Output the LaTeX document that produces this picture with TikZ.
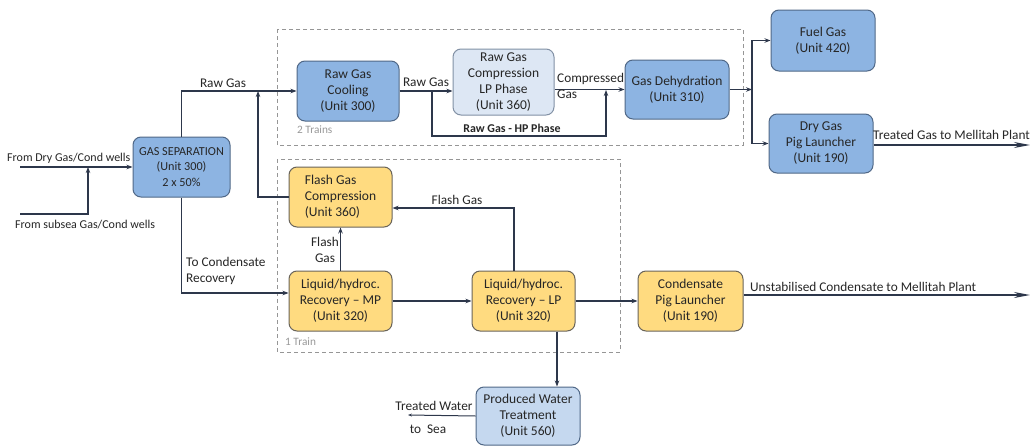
\documentclass[tikz,border=0pt]{standalone}
\usepackage{fontspec}
\setmainfont{Carlito}
\usetikzlibrary{arrows.meta}
\definecolor{bfill}{RGB}{141,180,226}
\definecolor{bdraw}{RGB}{80,104,135}
\definecolor{lfill}{RGB}{221,231,244}
\definecolor{ldraw}{RGB}{130,145,165}
\definecolor{yfill}{RGB}{255,219,128}
\definecolor{ydraw}{RGB}{105,100,90}
\definecolor{ln}{RGB}{45,55,75}
\definecolor{dgray}{RGB}{150,150,150}
\begin{document}
\begin{tikzpicture}[x=1pt,y=-1pt,
  base/.style={draw, line width=1pt, rounded corners=8pt, align=center, inner sep=0pt,
    font=\fontsize{13.5}{16}\selectfont, text=black!85},
  bluebox/.style={base, fill=bfill, draw=bdraw},
  lightbox/.style={base, fill=lfill, draw=ldraw},
  yelbox/.style={base, fill=yfill, draw=ydraw},
  conn/.style={draw=ln, line width=1.3pt, -{Stealth[length=6pt,width=4.5pt]}},
  bigconn/.style={draw=ln, line width=1.3pt, -{Stealth[length=16pt,width=6pt]}},
  lbl/.style={font=\fontsize{13.3}{16}\selectfont, text=black!85, inner sep=0pt},
  slbl/.style={font=\fontsize{12}{15}\selectfont, text=black!85, inner sep=0pt},
  trainbox/.style={draw=dgray, dashed, line width=1pt, dash pattern=on 4pt off 3pt},
  trainlbl/.style={font=\fontsize{11.3}{13}\selectfont, text=black!40, inner sep=0pt, anchor=west}]
\useasboundingbox (0,0) rectangle (1030,447);
\fill[white] (0,0) rectangle (1030,447);

% train frames
\draw[trainbox] (277,29) rectangle (743,145);
\draw[trainbox] (277,159) rectangle (620,352);
\node[trainlbl] (t2) at (297,130) {2 Trains};
\node[trainlbl] (t1) at (285,342) {1 Train};

% nodes
\node[bluebox, font=\fontsize{12.2}{15.5}\selectfont, minimum width=97, minimum height=60] (sep) at (181.5,167) {GAS SEPARATION\\(Unit 300)\\2 x 50\%};
\node[bluebox, minimum width=102, minimum height=60] (cool) at (348,91) {Raw Gas\\Cooling\\(Unit 300)};
\node[lightbox, minimum width=101, minimum height=66] (comp) at (503.5,82) {Raw Gas\\Compression\\LP Phase\\(Unit 360)};
\node[bluebox, minimum width=104, minimum height=59] (dehy) at (677,89.5) {Gas Dehydration\\(Unit 310)};
\node[bluebox, minimum width=104, minimum height=61] (fuel) at (823,40.5) {Fuel Gas\\(Unit 420)};
\node[bluebox, minimum width=104, minimum height=59] (dry) at (821,143.5) {Dry Gas\\Pig Launcher\\(Unit 190)};
\node[yelbox, minimum width=103, minimum height=60, align=left] (fcomp) at (340.5,197) {Flash Gas\\Compression\\(Unit 360)};
\node[yelbox, minimum width=103, minimum height=60] (mp) at (340.5,301) {Liquid/hydroc.\\Recovery -- MP\\(Unit 320)};
\node[yelbox, minimum width=103, minimum height=60] (lp) at (523.5,301) {Liquid/hydroc.\\Recovery -- LP\\(Unit 320)};
\node[yelbox, minimum width=105, minimum height=60] (cpig) at (690.5,301) {Condensate\\Pig Launcher\\(Unit 190)};
\node[lightbox, fill=lfill!70!bfill, draw=bdraw, minimum width=104, minimum height=58] (pwt) at (528,416) {Produced Water\\Treatment\\(Unit 560)};

% inlet feeds
\coordinate (in1) at (20,167);
\coordinate (in2) at (20,214);
\coordinate (j1) at (88,214);
\coordinate (j1t) at (88,167);
\draw[conn] (in1) -- (sep.west);
\draw[conn] (in2) -- (j1) -- (j1t);
\node[slbl, anchor=base west] (lin1) at (7,161) {From Dry Gas/Cond wells};
\node[slbl, anchor=base west] (lin2) at (15,228) {From subsea Gas/Cond wells};

% raw gas to cooling
\draw[conn] (sep.north) |- (cool.west);
\node[lbl, anchor=base] (lraw) at (223,87) {Raw Gas};

% flash gas compression outlet joins raw gas
\coordinate (j2) at (258,91);
\draw[conn] (fcomp.west) -| (j2);

% to condensate recovery
\draw[conn] (sep.south) |- ([yshift=8]mp.west);
\node[lbl, anchor=north west, align=left] (lcond) at (186,257) {To Condensate\\Recovery};

% MP -> LP -> condensate pig
\draw[conn] (mp) -- (lp);
\draw[conn] (lp) -- (cpig);

% flash gas streams
\draw[conn] (mp.north) -- (fcomp.south);
\node[lbl, align=center] (lfg1) at (325,250) {Flash\\Gas};
\draw[conn] ([xshift=-9.5]lp.north) |- ([yshift=-11]fcomp.east);
\node[lbl] (lfg2) at (457,200) {Flash Gas};

% cooling -> compression, HP bypass
\draw[conn] (cool.east) -- (comp.west |- cool.east);
\node[lbl] (lraw2) at (426,82) {Raw Gas};
\coordinate (hpA) at (432,91);
\coordinate (hpB) at (432,136);
\coordinate (hpC) at (606,90);
\draw[conn] (hpA) -- (hpB) -| (hpC);
\node[lbl, font=\bfseries\fontsize{11.9}{14}\selectfont] (lhp) at (512,128) {Raw Gas - HP Phase};

% compression -> dehydration
\draw[conn] (comp.east |- dehy.west) -- (dehy.west);
\node[lbl, anchor=north west, align=left] (lcg) at (557,73) {Compressed\\Gas};

% dehydration -> fuel gas / dry gas
\coordinate (j4) at (752,89.5);
\draw[conn] (dehy.east) -- (j4);
\draw[conn] (j4) |- (fuel.west);
\draw[conn] (j4) |- (dry.west);

% export lines
\coordinate (out1) at (1030,145);
\draw[bigconn] ([yshift=-1.5]dry.east) -- ([yshift=-1.5]dry.east -| out1);
\node[lbl, anchor=base west] (ltg) at (873,139) {Treated Gas to Mellitah Plant};
\coordinate (out2) at (1030,295);
\draw[bigconn] ([yshift=6]cpig.east) -- ([yshift=6]cpig.east -| out2);
\node[lbl, anchor=base west] (luc) at (750,291) {Unstabilised Condensate to Mellitah Plant};

% produced water
\draw[conn] ([xshift=33.5]lp.south) -- ([xshift=33.5]lp.south |- pwt.north);
\coordinate (sea) at (408,415);
\draw[draw=ln, line width=1pt, -{Stealth[length=4pt,width=3pt]}] (pwt.west) -- (sea);
\node[lbl] (ltw) at (434,406) {Treated Water};
\node[lbl] (lsea) at (428,429) {to\ \ Sea};
\end{tikzpicture}
\end{document}
